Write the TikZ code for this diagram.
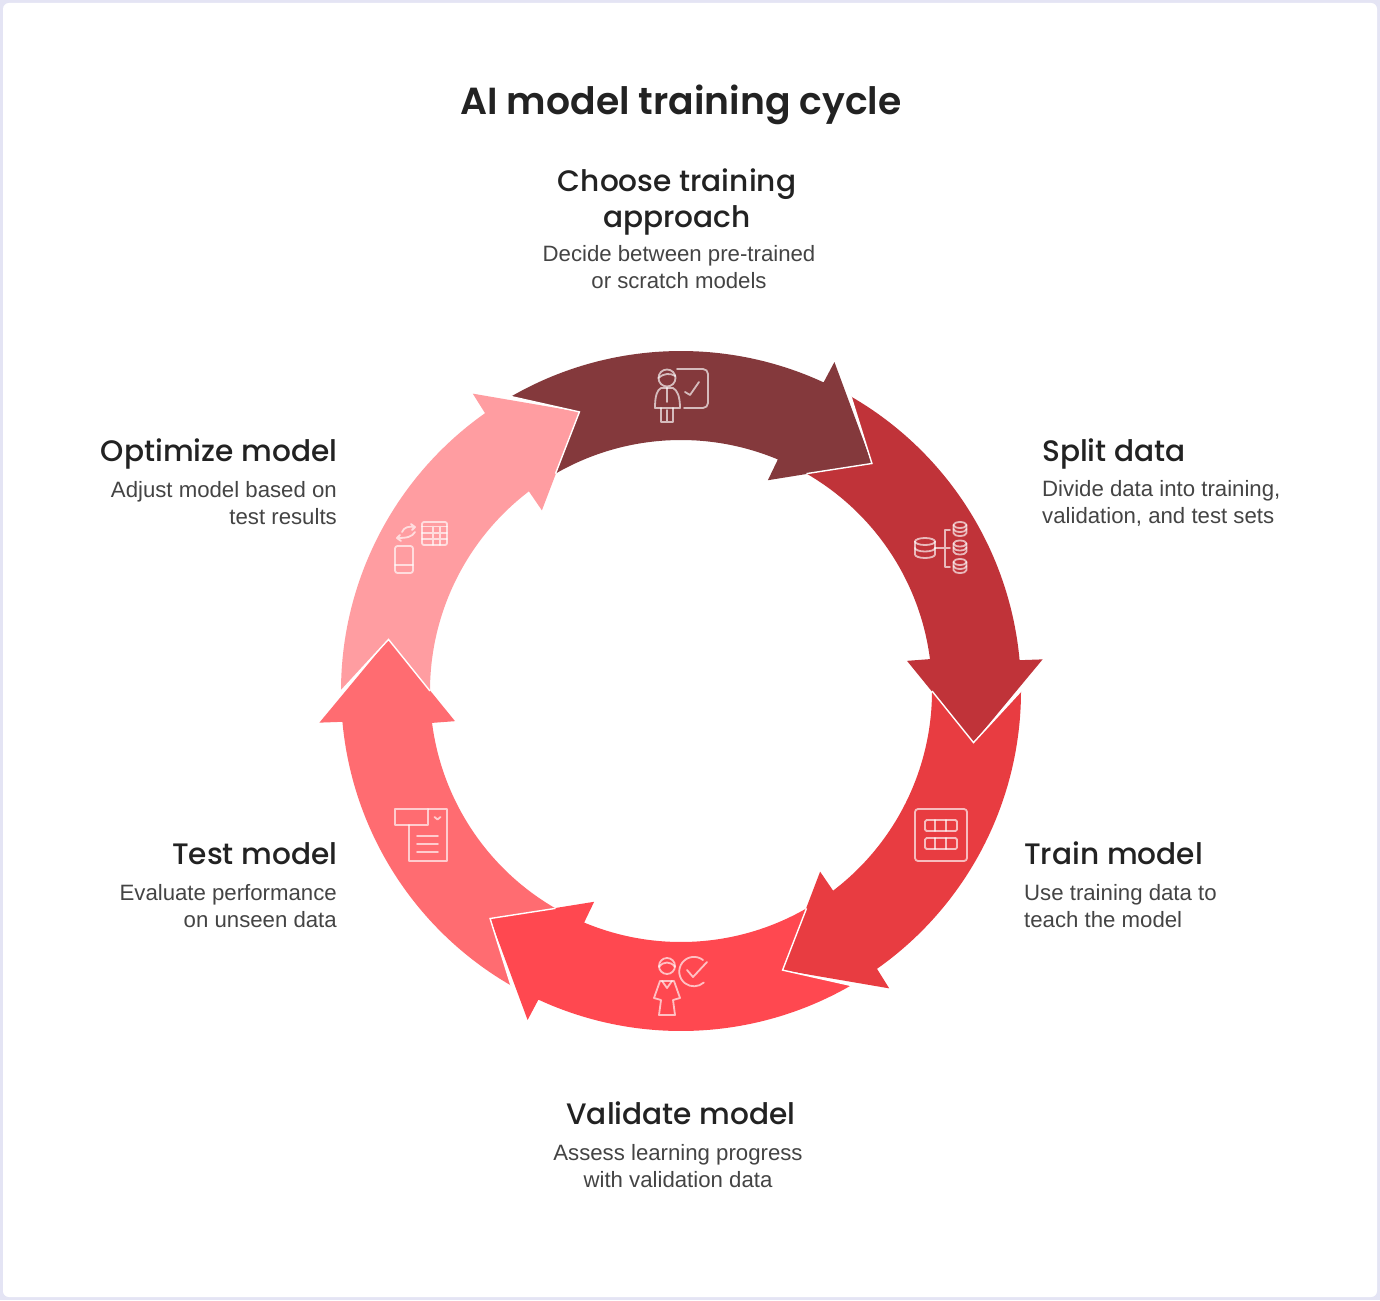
\documentclass[tikz,border=0pt]{standalone}
\usepackage{fontspec}
\setmainfont{Liberation Sans}
\newfontfamily\headfont{Poppins Medium}
\newfontfamily\titlefont{Poppins SemiBold}
\definecolor{framecol}{HTML}{E4E4F4}
\definecolor{inkcol}{HTML}{222222}
\definecolor{bodycol}{HTML}{444444}
\definecolor{arrowA}{HTML}{84393C}
\definecolor{arrowB}{HTML}{C03339}
\definecolor{arrowC}{HTML}{E83C41}
\definecolor{arrowD}{HTML}{FF4850}
\definecolor{arrowE}{HTML}{FF6C71}
\definecolor{arrowF}{HTML}{FF9DA1}
\begin{document}
\begin{tikzpicture}[x=1pt,y=-1pt,
     headtxt/.style={font=\headfont\fontsize{29.6}{36}\selectfont,text=inkcol,inner sep=0pt},
     bodytxt/.style={font=\fontsize{22.2}{27}\selectfont,text=bodycol,inner sep=0pt},
     icon/.style={draw=white,draw opacity=.66,line width=1.8pt,line cap=round,line join=round}
     ]
   % page frame
   \useasboundingbox (0,0) rectangle (1380,1300);
   \fill[framecol] (0,0) rectangle (1380,1300);
   \fill[white,rounded corners=6pt] (3,3) rectangle (1377,1297);

   % ring of six arrows, each one is the first turned by 60 degrees
   \begin{scope}[shift={(681,691)},y=1pt]
   \foreach \rot/\col in {0/arrowA,-60/arrowB,-120/arrowC,-180/arrowD,-240/arrowE,-300/arrowF}
   {
     \fill[\col,rotate=\rot] (120:340) arc[start angle=120,end angle=65.2,radius=340]
        -- (65:363) -- (50:297) -- (67.6:228) -- (67.3:251)
        arc[start angle=67.3,end angle=120,radius=251] -- (110:297) -- cycle;
   }
   \foreach \rot in {0,-60,-120,-180,-240,-300}
   {
     \draw[white,line width=1.4pt,line join=miter,rotate=\rot] (120:340) -- (110:297) -- (120:251);
   }
   \end{scope}

   \node[font=\titlefont\fontsize{37.7}{42}\selectfont,text=inkcol,inner sep=0pt] (title) at (681,105) {AI model training cycle};

   % headings and their texts
   \foreach \name/\x/\y/\pos/\desc
      in {choose/677/202/center/{Choose training\\approach},
          optimize/337.5/454/east/{Optimize model},
          split/1042/454/west/{Split data},
          train/1024/853/west/{Train model},
          test/337.5/854/east/{Test model},
          validate/681/1113.5/center/{Validate model}}
   {
     \node[headtxt,anchor=\pos,align=center] (\name) at (\x,\y) {\desc};
   }
   \foreach \name/\x/\y/\pos/\al/\desc
      in {chooseb/679/267.5/center/center/{Decide between pre-trained\\or scratch models},
          optimizeb/337/503/east/right/{Adjust model based on\\test results},
          splitb/1042/503/west/left/{Divide data into training,\\validation, and test sets},
          trainb/1024/906/west/left/{Use training data to\\teach the model},
          testb/337/906/east/right/{Evaluate performance\\on unseen data},
          validateb/678/1166/center/center/{Assess learning progress\\with validation data}}
   {
     \node[bodytxt,anchor=\pos,align=\al] (\name) at (\x,\y) {\desc};
   }

   % icon: teacher and board
   \draw[icon] (667,378) circle (8.5);
   \draw[icon] (658.5,378) .. controls (664,373) and (670,373) .. (675.5,376);
   \draw[icon] (677,369) -- (703,369) arc[start angle=-90,end angle=0,radius=5] -- (708,403)
      arc[start angle=0,end angle=90,radius=5] -- (684,408);
   \draw[icon] (685,392) -- (690,395) -- (699,382);
   \draw[icon] (661,388) -- (673,388) .. controls (677,390) and (680,396) .. (680,408) -- (655,408)
      .. controls (655,396) and (657,390) .. (661,388);
   \draw[icon] (667,388) -- (667,402);
   \draw[icon] (661,408) -- (661,422) -- (673,422) -- (673,408) (667,410) -- (667,422);

   % icon: one store into three
   \foreach \x/\y/\rx/\ry/\h in {925/541.5/10/3.5/13,960/525/6.5/3/8,960/543.5/6.5/3/8,960/562/6.5/3/8}
   {
     \draw[icon] (\x,\y) circle[x radius=\rx,y radius=\ry];
     \draw[icon] (\x-\rx,\y) -- (\x-\rx,\y+\h) arc[start angle=180,end angle=0,x radius=\rx,y radius=\ry] -- (\x+\rx,\y);
     \draw[icon] (\x-\rx,\y+\h/2) arc[start angle=180,end angle=0,x radius=\rx,y radius=\ry];
   }
   \draw[icon] (935,548) -- (950,548) (950,530) -- (945,530) -- (945,567) -- (950,567);

   % icon: framed grid
   \draw[icon,rounded corners=3pt] (915,809) rectangle (967,861);
   \draw[icon,rounded corners=1.5pt] (925,820) rectangle (957,831);
   \draw[icon,rounded corners=1.5pt] (925,838) rectangle (957,849);
   \draw[icon] (935,820) -- (935,831) (946,820) -- (946,831) (935,838) -- (935,849) (946,838) -- (946,849);

   % icon: person and tick in a circle
   \draw[icon] (667,966) circle (8);
   \draw[icon] (659,967) .. controls (663,961) and (671,961) .. (675,967);
   \draw[icon] (660,981) -- (674,981) -- (680,998) -- (673,1000) -- (675,1015) -- (659,1015)
      -- (661,1000) -- (654,998) -- cycle;
   \draw[icon] (662,981) -- (667,988) -- (672,981);
   \draw[icon] (703,960) arc[start angle=-52,end angle=-312,radius=14.7];
   \draw[icon] (687,970) -- (693,977) -- (707,962);

   % icon: sheet with a tab
   \draw[icon] (395,809) rectangle (428,825);
   \draw[icon] (428,809) -- (447,809) -- (447,861) -- (409,861) -- (409,825);
   \draw[icon] (434.5,817) -- (437.5,819.5) -- (440.5,817);
   \foreach \y in {836,844,852}
   {
     \draw[icon] (417,\y) -- (438,\y);
   }

   % icon: phone, arrows and table
   \draw[icon,rounded corners=2pt] (422,522) rectangle (447,545);
   \draw[icon] (422,526.5) -- (447,526.5) (422,533) -- (447,533) (422,539) -- (447,539)
      (433,526.5) -- (433,545) (440,526.5) -- (440,545);
   \draw[icon,rounded corners=2.5pt] (395,546) rectangle (413,573);
   \draw[icon] (395,565) -- (413,565);
   \draw[icon] (402,532) .. controls (404,527) and (409,526) .. (415,527) (411,524) -- (415,527) -- (412,530);
   \draw[icon] (415,532) .. controls (412,537) and (407,538) .. (397,538) (400,535) -- (397,538) -- (401,541);
\end{tikzpicture}
\end{document}
